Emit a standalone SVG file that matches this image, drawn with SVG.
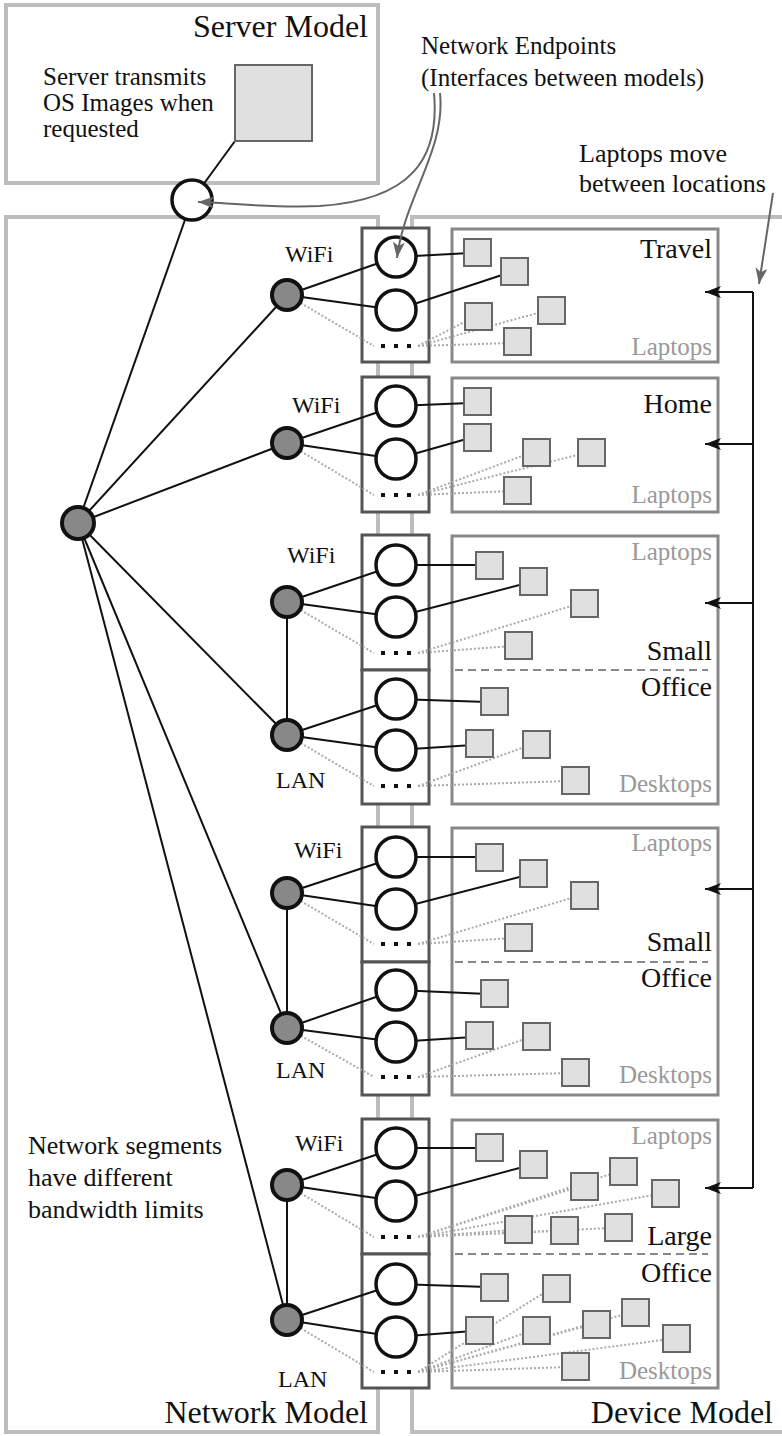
<svg xmlns="http://www.w3.org/2000/svg" width="782" height="1436" viewBox="0 0 782 1436">
<style>
.mbox{fill:#fff;stroke:#bdbdbd;stroke-width:4}
.lbox{fill:#fff;stroke:#888;stroke-width:3}
.ebox{fill:#fff;stroke:#555;stroke-width:3}
.ep{fill:#fff;stroke:#111;stroke-width:3.5}
.nn{fill:#888;stroke:#111;stroke-width:4}
.dev{fill:#e0e0e0;stroke:#666;stroke-width:2}
.ln{stroke:#111;stroke-width:2;fill:none}
.dt{stroke:#aaa;stroke-width:2;stroke-dasharray:2 2;fill:none}
.dash{stroke:#888;stroke-width:2;stroke-dasharray:8 5}
.ga{stroke:#666;stroke-width:2;fill:none}
.t{font-family:'Liberation Serif','Times New Roman','DejaVu Serif',serif;fill:#111}
.big{font-size:32px}
.ann{font-size:26px}
.ann25{font-size:25px}
.lab{font-size:24px}
.loc{font-size:28px;text-anchor:end}
.gr{font-size:25px;fill:#999;text-anchor:end}
.end{text-anchor:end}
</style>
<defs>
<marker id="ab" markerUnits="userSpaceOnUse" markerWidth="18" markerHeight="14" refX="16" refY="6" orient="auto">
<path d="M0,0 L16,6 L0,12 L4,6 z" fill="#111"/>
</marker>
<marker id="ag" markerUnits="userSpaceOnUse" markerWidth="18" markerHeight="14" refX="16" refY="6" orient="auto">
<path d="M0,0 L16,6 L0,12 L4,6 z" fill="#666"/>
</marker>
</defs>

<g id="containers">
<rect class="mbox" x="6" y="5" width="372" height="178"/>
<rect class="mbox" x="6" y="217" width="372" height="1215"/>
<rect class="mbox" x="412" y="217" width="380" height="1215"/>
<rect class="ebox" x="362" y="228" width="67" height="134"/>
<rect class="ebox" x="362" y="377" width="67" height="135"/>
<rect class="ebox" x="362" y="535" width="67" height="135"/>
<rect class="ebox" x="362" y="670" width="67" height="134"/>
<rect class="ebox" x="362" y="827" width="67" height="135"/>
<rect class="ebox" x="362" y="962" width="67" height="133"/>
<rect class="ebox" x="362" y="1119" width="67" height="135"/>
<rect class="ebox" x="362" y="1254" width="67" height="134"/>
<rect class="lbox" x="452" y="229" width="266" height="133"/>
<rect class="lbox" x="452" y="378" width="266" height="134"/>
<rect class="lbox" x="452" y="536" width="266" height="268"/>
<rect class="lbox" x="452" y="828" width="266" height="267"/>
<rect class="lbox" x="452" y="1120" width="266" height="268"/>
<line class="dash" x1="455" y1="670" x2="708" y2="670"/>
<line class="dash" x1="455" y1="962" x2="708" y2="962"/>
<line class="dash" x1="455" y1="1254" x2="708" y2="1254"/>
</g>

<g id="connectors">
<line class="ln" x1="235" y1="141" x2="192" y2="200"/>
<line class="ln" x1="78" y1="523" x2="192" y2="200"/>
<line class="ln" x1="78" y1="523" x2="287" y2="295"/>
<line class="ln" x1="78" y1="523" x2="287" y2="443"/>
<line class="ln" x1="78" y1="523" x2="287" y2="735"/>
<line class="ln" x1="78" y1="523" x2="287" y2="1028"/>
<line class="ln" x1="78" y1="523" x2="287" y2="1320"/>
<line class="ln" x1="287" y1="602" x2="287" y2="735"/>
<line class="ln" x1="287" y1="893" x2="287" y2="1028"/>
<line class="ln" x1="287" y1="1185" x2="287" y2="1320"/>
<path class="ln" d="M287,295 L396,257 M287,295 L396,310"/>
<path class="dt" d="M287,295 L374,346"/>
<path class="ln" d="M287,443 L396,406 M287,443 L396,459"/>
<path class="dt" d="M287,443 L374,495"/>
<path class="ln" d="M287,602 L396,565 M287,602 L396,617"/>
<path class="dt" d="M287,602 L374,653"/>
<path class="ln" d="M287,735 L396,699 M287,735 L396,750"/>
<path class="dt" d="M287,735 L374,786"/>
<path class="ln" d="M287,893 L396,857 M287,893 L396,909"/>
<path class="dt" d="M287,893 L374,944"/>
<path class="ln" d="M287,1028 L396,990 M287,1028 L396,1042"/>
<path class="dt" d="M287,1028 L374,1077"/>
<path class="ln" d="M287,1185 L396,1148 M287,1185 L396,1201"/>
<path class="dt" d="M287,1185 L374,1237"/>
<path class="ln" d="M287,1320 L396,1284 M287,1320 L396,1337"/>
<path class="dt" d="M287,1320 L374,1372"/>
<path class="ln" d="M396,257 L470,253 M396,310 L508,273"/>
<path class="dt" d="M418,346 L472,318 M418,346 L545,311 M418,346 L511,343"/>
<path class="ln" d="M396,406 L470,403 M396,459 L470,438"/>
<path class="dt" d="M418,495 L530,453 M418,495 L585,453 M418,495 L511,491"/>
<path class="ln" d="M396,565 L483,565 M396,617 L527,583"/>
<path class="dt" d="M418,653 L578,604 M418,653 L512,646"/>
<path class="ln" d="M396,699 L488,702 M396,750 L473,745"/>
<path class="dt" d="M418,786 L530,745 M418,786 L569,781"/>
<path class="ln" d="M396,857 L483,857 M396,909 L527,875"/>
<path class="dt" d="M418,944 L578,896 M418,944 L512,938"/>
<path class="ln" d="M396,990 L488,994 M396,1042 L473,1037"/>
<path class="dt" d="M418,1077 L530,1037 M418,1077 L569,1073"/>
<path class="ln" d="M396,1148 L483,1148 M396,1201 L527,1166"/>
<path class="dt" d="M418,1237 L578,1187 M418,1237 L617,1172 M418,1237 L659,1194 M418,1237 L512,1230 M418,1237 L558,1231 M418,1237 L612,1228"/>
<path class="ln" d="M396,1284 L488,1287 M396,1337 L473,1331"/>
<path class="dt" d="M418,1372 L550,1289 M418,1372 L530,1331 M418,1372 L590,1325 M418,1372 L629,1313 M418,1372 L670,1339 M418,1372 L569,1367"/>
<path class="ln" d="M753,292 L753,1188"/>
<line class="ln" x1="753" y1="292" x2="705" y2="292" marker-end="url(#ab)"/>
<line class="ln" x1="753" y1="444" x2="705" y2="444" marker-end="url(#ab)"/>
<line class="ln" x1="753" y1="603" x2="705" y2="603" marker-end="url(#ab)"/>
<line class="ln" x1="753" y1="889" x2="705" y2="889" marker-end="url(#ab)"/>
<line class="ln" x1="753" y1="1188" x2="705" y2="1188" marker-end="url(#ab)"/>
</g>

<g id="server">
<rect class="dev" x="235" y="65" width="77" height="76"/>
<text class="t ann25" x="43" y="85">Server transmits</text>
<text class="t ann25" x="43" y="111">OS Images when</text>
<text class="t ann25" x="43" y="137">requested</text>
<text class="t big end" x="368" y="37">Server Model</text>
</g>
<g id="server-endpoint"><circle class="ep" cx="192" cy="200" r="20"/></g>
<g id="hub"><circle class="nn" cx="78" cy="523" r="16"/></g>

<g id="net-nodes">
<circle class="nn" cx="287" cy="295" r="15"/>
<circle class="nn" cx="287" cy="443" r="15"/>
<circle class="nn" cx="287" cy="602" r="15"/>
<circle class="nn" cx="287" cy="735" r="15"/>
<circle class="nn" cx="287" cy="893" r="15"/>
<circle class="nn" cx="287" cy="1028" r="15"/>
<circle class="nn" cx="287" cy="1185" r="15"/>
<circle class="nn" cx="287" cy="1320" r="15"/>
<text class="t lab" x="285" y="262">WiFi</text>
<text class="t lab" x="292" y="413">WiFi</text>
<text class="t lab" x="287" y="563">WiFi</text>
<text class="t lab" x="294" y="858">WiFi</text>
<text class="t lab" x="295" y="1151">WiFi</text>
<text class="t lab" x="276" y="788">LAN</text>
<text class="t lab" x="276" y="1078">LAN</text>
<text class="t lab" x="278" y="1387">LAN</text>
</g>

<g id="endpoints">
<circle class="ep" cx="396" cy="257" r="20"/><circle class="ep" cx="396" cy="310" r="20"/>
<circle class="ep" cx="396" cy="406" r="20"/><circle class="ep" cx="396" cy="459" r="20"/>
<circle class="ep" cx="396" cy="565" r="20"/><circle class="ep" cx="396" cy="617" r="20"/>
<circle class="ep" cx="396" cy="699" r="20"/><circle class="ep" cx="396" cy="750" r="20"/>
<circle class="ep" cx="396" cy="857" r="20"/><circle class="ep" cx="396" cy="909" r="20"/>
<circle class="ep" cx="396" cy="990" r="20"/><circle class="ep" cx="396" cy="1042" r="20"/>
<circle class="ep" cx="396" cy="1148" r="20"/><circle class="ep" cx="396" cy="1201" r="20"/>
<circle class="ep" cx="396" cy="1284" r="20"/><circle class="ep" cx="396" cy="1337" r="20"/>
<g fill="#111">
<rect x="381" y="344" width="4" height="4"/><rect x="394" y="344" width="4" height="4"/><rect x="407" y="344" width="4" height="4"/>
<rect x="381" y="493" width="4" height="4"/><rect x="394" y="493" width="4" height="4"/><rect x="407" y="493" width="4" height="4"/>
<rect x="381" y="651" width="4" height="4"/><rect x="394" y="651" width="4" height="4"/><rect x="407" y="651" width="4" height="4"/>
<rect x="381" y="784" width="4" height="4"/><rect x="394" y="784" width="4" height="4"/><rect x="407" y="784" width="4" height="4"/>
<rect x="381" y="942" width="4" height="4"/><rect x="394" y="942" width="4" height="4"/><rect x="407" y="942" width="4" height="4"/>
<rect x="381" y="1075" width="4" height="4"/><rect x="394" y="1075" width="4" height="4"/><rect x="407" y="1075" width="4" height="4"/>
<rect x="381" y="1235" width="4" height="4"/><rect x="394" y="1235" width="4" height="4"/><rect x="407" y="1235" width="4" height="4"/>
<rect x="381" y="1370" width="4" height="4"/><rect x="394" y="1370" width="4" height="4"/><rect x="407" y="1370" width="4" height="4"/>
</g>
</g>

<g id="loc-travel">
<rect class="dev" x="464" y="239" width="27" height="27"/>
<rect class="dev" x="501" y="258" width="27" height="27"/>
<rect class="dev" x="465" y="303" width="27" height="27"/>
<rect class="dev" x="538" y="297" width="27" height="27"/>
<rect class="dev" x="504" y="328" width="27" height="27"/>
<text class="t loc" x="712" y="258">Travel</text>
<text class="t gr" x="712" y="355">Laptops</text>
</g>
<g id="loc-home">
<rect class="dev" x="464" y="388" width="27" height="27"/>
<rect class="dev" x="464" y="424" width="27" height="27"/>
<rect class="dev" x="523" y="439" width="27" height="27"/>
<rect class="dev" x="578" y="439" width="27" height="27"/>
<rect class="dev" x="504" y="477" width="27" height="27"/>
<text class="t loc" x="712" y="413">Home</text>
<text class="t gr" x="712" y="503">Laptops</text>
</g>
<g id="loc-small-office-1">
<rect class="dev" x="476" y="552" width="27" height="27"/>
<rect class="dev" x="520" y="568" width="27" height="27"/>
<rect class="dev" x="571" y="590" width="27" height="27"/>
<rect class="dev" x="505" y="632" width="27" height="27"/>
<rect class="dev" x="481" y="688" width="27" height="27"/>
<rect class="dev" x="466" y="730" width="27" height="27"/>
<rect class="dev" x="523" y="731" width="27" height="27"/>
<rect class="dev" x="562" y="767" width="27" height="27"/>
<text class="t gr" x="712" y="560">Laptops</text>
<text class="t loc" x="712" y="660">Small</text>
<text class="t loc" x="712" y="696">Office</text>
<text class="t gr" x="712" y="792">Desktops</text>
</g>
<g id="loc-small-office-2">
<rect class="dev" x="476" y="844" width="27" height="27"/>
<rect class="dev" x="520" y="860" width="27" height="27"/>
<rect class="dev" x="571" y="882" width="27" height="27"/>
<rect class="dev" x="505" y="924" width="27" height="27"/>
<rect class="dev" x="481" y="980" width="27" height="27"/>
<rect class="dev" x="466" y="1022" width="27" height="27"/>
<rect class="dev" x="523" y="1023" width="27" height="27"/>
<rect class="dev" x="562" y="1059" width="27" height="27"/>
<text class="t gr" x="712" y="851">Laptops</text>
<text class="t loc" x="712" y="951">Small</text>
<text class="t loc" x="712" y="987">Office</text>
<text class="t gr" x="712" y="1083">Desktops</text>
</g>
<g id="loc-large-office">
<rect class="dev" x="476" y="1134" width="27" height="27"/>
<rect class="dev" x="520" y="1151" width="27" height="27"/>
<rect class="dev" x="571" y="1173" width="27" height="27"/>
<rect class="dev" x="610" y="1158" width="27" height="27"/>
<rect class="dev" x="652" y="1180" width="27" height="27"/>
<rect class="dev" x="505" y="1216" width="27" height="27"/>
<rect class="dev" x="551" y="1217" width="27" height="27"/>
<rect class="dev" x="605" y="1214" width="27" height="27"/>
<rect class="dev" x="481" y="1274" width="27" height="27"/>
<rect class="dev" x="543" y="1275" width="27" height="27"/>
<rect class="dev" x="466" y="1317" width="27" height="27"/>
<rect class="dev" x="523" y="1317" width="27" height="27"/>
<rect class="dev" x="583" y="1311" width="27" height="27"/>
<rect class="dev" x="622" y="1299" width="27" height="27"/>
<rect class="dev" x="663" y="1325" width="27" height="27"/>
<rect class="dev" x="562" y="1353" width="27" height="27"/>
<text class="t gr" x="712" y="1144">Laptops</text>
<text class="t loc" x="712" y="1245">Large</text>
<text class="t loc" x="712" y="1282">Office</text>
<text class="t gr" x="712" y="1379">Desktops</text>
</g>

<g id="annotation-arrows">
<path class="ga" d="M434,93 C440,160 410,200 320,206 C270,208 230,203 198,202" marker-end="url(#ag)"/>
<path class="ga" d="M440,93 C446,150 404,198 397,258" marker-end="url(#ag)"/>
<path class="ga" d="M773,193 L759,284" marker-end="url(#ag)"/>
</g>

<g id="labels">
<text class="t ann25" x="421" y="54">Network Endpoints</text>
<text class="t ann25" x="421" y="86">(Interfaces between models)</text>
<text class="t ann" x="579" y="162">Laptops move</text>
<text class="t ann" x="579" y="192">between locations</text>
<text class="t ann" x="28" y="1154">Network segments</text>
<text class="t ann" x="28" y="1186">have different</text>
<text class="t ann" x="28" y="1218">bandwidth limits</text>
<text class="t big end" x="368" y="1423">Network Model</text>
<text class="t big end" x="773" y="1423">Device Model</text>
</g>
</svg>
